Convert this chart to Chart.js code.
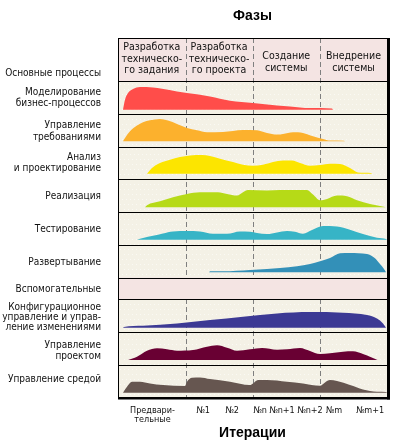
<!DOCTYPE html>
<html>
<head>
<meta charset="utf-8">
<script src="https://cdn.jsdelivr.net/npm/chart.js@4.4.0/dist/chart.umd.min.js"></script>
<style>
  html, body { margin: 0; padding: 0; background: #fff; }
</style>
</head>
<body>
<canvas id="chart" width="393" height="446"></canvas>
<script>
// Process rows (left labels)
const rowLabels = [
  'Основные процессы',
  ['Моделирование', 'бизнес-процессов'],
  ['Управление', 'требованиями'],
  ['Анализ', 'и проектирование'],
  'Реализация',
  'Тестирование',
  'Развертывание',
  'Вспомогательные',
  ['Конфигурационное', 'управление и управ-', 'ление изменениями'],
  ['Управление', 'проектом'],
  'Управление средой'
];

// Phases (header) and iterations (x ticks)
const phases = [
  ['Разработка', 'техническо-', 'го задания'],
  ['Разработка', 'техническо-', 'го проекта'],
  ['Создание', 'системы'],
  ['Внедрение', 'системы']
];
const iterLabels = [['Предвари-', 'тельные'], '№1', '№2', '№n', '№n+1', '№n+2', '№m', '№m+1'];

// Effort curves: [iteration position, effort height]
const modeling = [[5,0],[7,10],[10,16.7],[15,20.7],[22,22.7],[35,22.3],[44,21],[59,18.3],[69,16.7],[92,13.3],[112,9],[135,6.7],[159,4.3],[172,3.3],[192,1.7],[214,1.3],[215,0]];
const requirements = [[5,0],[7,3.3],[12,10],[19,15.7],[25,19],[32,21],[42,22.3],[50,20.7],[59,17.3],[69,13.3],[79,11],[89,9],[105,9.3],[115,10.3],[125,11.3],[139,11],[149,8.3],[159,6.7],[165,7.3],[175,9],[185,8.3],[195,5],[205,2.3],[212,0.7],[226,0.5],[227,0]];
const analysis = [[29,0],[34,5.7],[42,10.7],[52,14],[62,16.7],[72,18.3],[84,18.7],[92,17.7],[102,15],[115,11.7],[125,9],[135,8],[145,9],[155,11.7],[165,13.3],[174,13.3],[182,10.7],[192,8],[202,8.7],[212,10],[222,9.7],[232,5.7],[240,1.3],[253,0.7],[254,0]];
const implementation = [[27,0],[29,2],[42,6],[55,10],[69,13.3],[82,15],[100,15],[109,13.3],[119,11.7],[125,15],[130,17.3],[149,16.7],[162,17.3],[189,17.3],[195,12.7],[202,7],[209,8.3],[219,11.7],[229,11],[239,7],[252,3.3],[267,0.3],[268,0]];
const testing = [[19,0],[25,1.7],[35,4],[45,6.3],[55,8.3],[69,8.7],[82,8.3],[95,6],[109,6],[122,8.3],[132,8],[139,6.7],[149,5.7],[159,7.3],[169,8.7],[177,8],[185,6],[194,9.7],[205,13.7],[219,13.3],[232,10],[245,5.7],[259,2],[268,0.7],[269,0]];
const deployment = [[91,0],[92,1],[105,1],[132,2.3],[149,3.3],[162,4.3],[179,6],[192,8.3],[202,11],[212,14.3],[222,19],[232,19.3],[249,18.3],[257,14],[262,8.3],[266,3.3],[268,0]];
const configMgmt = [[5,0],[6,0.7],[25,2],[59,4.3],[92,7.7],[125,11],[159,14.3],[192,15.7],[225,15],[249,12.7],[259,9.3],[265,4.3],[268,0]];
const projectMgmt = [[10,0],[19,3.3],[29,9.3],[39,11.7],[49,10.7],[59,9.3],[75,10],[89,13.3],[99,14.7],[109,12.3],[119,9.3],[132,10.7],[144,12],[159,10.3],[169,10.7],[182,12],[192,9],[202,6],[212,6.7],[225,8.3],[235,8.7],[245,6],[259,0.3],[260,0]];
const environment = [[5,0],[9,6],[14,11],[22,11],[32,9.3],[45,7.7],[67,6.7],[69,11],[74,15],[82,15.3],[92,13.7],[112,11],[132,7.7],[135,9.3],[140,12.7],[149,12.7],[169,11],[185,9.3],[202,7],[207,10.3],[212,12.7],[219,11.7],[232,7.7],[245,3.3],[259,1],[268,0.7],[269,0]];

// layout of the grid (scale units)
const rowEdges = [0, 43, 76, 109, 141, 174, 207, 239.5, 261, 294, 326.5, 360];
const labelPos = [35, 60, 93.5, 125, 158, 191, 224, 251, 279, 313, 341];
const phaseEdges = [0, 67.5, 134.5, 202, 269];
const iterPos = [34.5, 85, 114, 142, 164, 192, 216, 252];

const FONT = '"Liberation Sans", Arial, sans-serif';
const COND = '"DejaVu Sans Condensed", "Liberation Sans", sans-serif';

const rows = [
  { data: modeling,       base: 71.7,  color: '#ff4d4a' },
  { data: requirements,   base: 103.3, color: '#fcb12d' },
  { data: analysis,       base: 135.7, color: '#fce500' },
  { data: implementation, base: 169.3, color: '#b6da17' },
  { data: testing,        base: 201.7, color: '#37b4c6' },
  { data: deployment,     base: 234.3, color: '#3390b8' },
  { data: configMgmt,     base: 289.7, color: '#3c3994' },
  { data: projectMgmt,    base: 322,   color: '#690033' },
  { data: environment,    base: 354.7, color: '#665650' }
];

const datasets = rows.map(r => ({
  data: r.data.map(([x, h]) => ({ x: x, y: r.base - h })),
  backgroundColor: r.color,
  borderWidth: 0,
  pointRadius: 0,
  fill: { value: r.base },
  cubicInterpolationMode: 'monotone'
}));

// backgrounds, dashed phase lines, header text and frame
const backdrop = {
  id: 'backdrop',
  beforeDatasetsDraw(chart) {
    const { ctx, chartArea: a, scales: { x, y } } = chart;
    const py = v => y.getPixelForValue(v);
    ctx.save();
    ctx.fillStyle = '#f4f1e6';
    ctx.fillRect(a.left, a.top, a.width, a.height);
    // faint dotted texture
    ctx.fillStyle = 'rgba(255,255,255,0.55)';
    for (let yy = Math.round(py(43)) + 3; yy < a.bottom - 1; yy += 5) {
      const off = (yy % 3) * 2;
      for (let xx = a.left + 2 + off; xx < a.right - 1; xx += 4) ctx.fillRect(xx, yy, 1, 1);
    }
    ctx.fillStyle = '#f4e4e3';
    ctx.fillRect(a.left, py(0), a.width, py(43) - py(0));
    ctx.fillRect(a.left, py(239.5), a.width, py(261) - py(239.5));

    ctx.strokeStyle = '#7f7f7f';
    ctx.lineWidth = 1;
    ctx.setLineDash([5, 3]);
    phaseEdges.slice(1, -1).forEach(v => {
      const px = Math.round(x.getPixelForValue(v)) + 0.5;
      [[0, 239.5], [261, 360]].forEach(([s, e]) => {
        ctx.beginPath();
        ctx.moveTo(px, py(s));
        ctx.lineTo(px, py(e));
        ctx.stroke();
      });
    });
    ctx.setLineDash([]);

    ctx.fillStyle = '#111';
    ctx.font = '10.5px ' + COND;
    ctx.textAlign = 'center';
    ctx.textBaseline = 'middle';
    phases.forEach((lines, i) => {
      const cx = x.getPixelForValue((phaseEdges[i] + phaseEdges[i + 1]) / 2);
      const mid = lines.length === 3 ? py(21) : py(24);
      lines.forEach((t, j) => {
        ctx.fillText(t, cx, mid + (j - (lines.length - 1) / 2) * 11.7);
      });
    });
    ctx.restore();
  },
  afterDatasetsDraw(chart) {
    const { ctx, chartArea: a, scales: { y } } = chart;
    ctx.save();
    ctx.fillStyle = '#000';
    rowEdges.forEach(v => {
      const p = Math.round(y.getPixelForValue(v));
      ctx.fillRect(a.left, p, a.width, 1);
    });
    ctx.fillRect(a.left, a.top, 1, a.height);
    ctx.fillRect(a.right, a.top, 3, a.height + 1.5);
    ctx.fillRect(a.left, a.bottom - 1, a.width + 3, 2.5);
    ctx.restore();
  }
};

new Chart(document.getElementById('chart').getContext('2d'), {
  type: 'line',
  data: { datasets: datasets },
  plugins: [backdrop],
  options: {
    responsive: false,
    animation: false,
    layout: { padding: { left: 0, right: 6, top: 0, bottom: 0 } },
    plugins: {
      legend: { display: false },
      tooltip: { enabled: false },
      title: {
        display: true,
        text: 'Фазы',
        fullSize: false,
        color: '#000',
        font: { family: FONT, size: 14, weight: 'bold' },
        padding: { top: 7.6, bottom: 13.6 }
      }
    },
    scales: {
      x: {
        type: 'linear',
        min: 0,
        max: 269,
        afterBuildTicks: s => { s.ticks = iterPos.map(v => ({ value: v })); },
        afterFit: s => { s.height = 48; },
        grid: { display: false },
        border: { display: false },
        ticks: {
          autoSkip: false,
          maxRotation: 0,
          padding: 0,
          color: '#111',
          font: { family: COND, size: 9, lineHeight: 1.0 },
          callback: (v, i) => iterLabels[i]
        },
        title: {
          display: true,
          text: 'Итерации',
          color: '#000',
          font: { family: FONT, size: 14, weight: 'bold' },
          padding: { top: 0, bottom: 4 }
        }
      },
      y: {
        type: 'linear',
        reverse: true,
        min: 0,
        max: 360,
        afterBuildTicks: s => { s.ticks = labelPos.map(v => ({ value: v })); },
        afterFit: s => { s.width = 118; },
        grid: { display: false },
        border: { display: false },
        ticks: {
          autoSkip: false,
          padding: 9,
          color: '#111',
          font: ctx => ({ family: COND, size: 10, lineHeight: ctx.index === 8 ? 1.0 : 1.15 }),
          callback: (v, i) => rowLabels[i]
        }
      }
    }
  }
});
</script>
</body>
</html>
